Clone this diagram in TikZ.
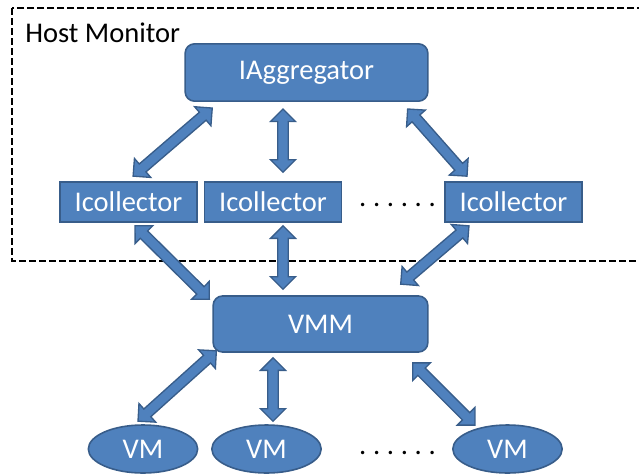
\documentclass[tikz,border=0pt]{standalone}
\usepackage{fontspec}
\setmainfont{Carlito}
\usetikzlibrary{shapes, shapes.arrows, calc, positioning}
\definecolor{officeBlue}{HTML}{4F81BD}
\definecolor{officeBorder}{HTML}{385D8A}
\tikzstyle{component}=[draw=officeBorder, line width=1.2pt, fill=officeBlue, text=white, rounded corners=7pt, minimum width=182pt, minimum height=43pt, inner sep=0pt]
\tikzstyle{collector}=[draw=officeBorder, line width=1.2pt, fill=officeBlue, text=white, minimum width=103pt, minimum height=30pt, inner sep=0pt]
\tikzstyle{guest}=[draw=officeBorder, ellipse, line width=1.2pt, fill=officeBlue, text=white, minimum width=82pt, minimum height=36pt, inner sep=0pt]
\tikzstyle{linkArrow}=[double arrow, draw=officeBorder, fill=officeBlue, line width=1pt, inner sep=3.4pt, double arrow head extend=5.5pt, outer sep=0pt]
\tikzstyle{hostBox}=[draw, line width=1pt, dash pattern=on 5pt off 2.5pt]
\tikzstyle{ellipsis}=[anchor=base, inner sep=0pt]

\newcommand{\link}[2]{%
  \path let \p1=(#1), \p2=(#2),
    \n1={atan2(\y2-\y1,\x2-\x1)}, \n2={veclen(\x2-\x1,\y2-\y1)} in
    node[linkArrow, minimum height=\n2, rotate=\n1] at ($(\p1)!0.5!(\p2)$) {};}
\newcommand{\sixdots}{.\hspace{5pt}.\hspace{5pt}.\hspace{5pt}.\hspace{5pt}.\hspace{5pt}.}

\begin{document}
\begin{tikzpicture}[x=0.75pt, y=-0.75pt, font=\fontsize{21.4}{25}\selectfont]
    \useasboundingbox (0,0) rectangle (639,475);
    \draw[hostBox] (12,8) rectangle (680,261);
    \node (host)[anchor=base west, inner sep=0pt] at (25,42) {Host Monitor};

    \node (agg)[component] at (306.5,72.5) {IAggregator};

    \node (col1)[collector] at (128.5,202) {Icollector};
    \node (col2)[collector] at (273,202) {Icollector};
    \node (cdots)[ellipsis] at (397.5,206) {\sixdots};
    \node (col3)[collector] at (513.5,202) {Icollector};

    \node (vmm)[component, minimum width=161pt, minimum height=42pt] at (320.5,324) {VMM};

    \node (vm1)[guest] at (143,449) {VM};
    \node (vm2)[guest] at (266.5,449) {VM};
    \node (vdots)[ellipsis] at (397.5,454) {\sixdots};
    \node (vm3)[guest] at (507.5,449) {VM};

    % aggregator <-> collectors
    \link{$(agg.south west)+(28,6)$}{$(col1.north)+(4.5,-5)$}
    \link{$(agg.south)+(-23.5,7)$}{$(col2.north)+(10,-9)$}
    \link{$(agg.south east)+(-21,7)$}{$(col3.north west)+(23,-5)$}

    % collectors <-> VMM
    \link{$(col1.south)+(6.5,3)$}{$(vmm.north west)+(-3,4)$}
    \link{$(col2.south)+(10,3)$}{$(vmm.north)+(-37.5,-6)$}
    \link{$(col3.south west)+(25,3)$}{$(vmm.north east)+(-28,-11)$}

    % VMM <-> VMs
    \link{$(vmm.south west)+(4,-2)$}{$(vm1.north)+(-5,-3)$}
    \link{$(vmm.south)+(-47.5,5)$}{$(vm2.north)+(6.5,-3)$}
    \link{$(vmm.south east)+(-16,10)$}{$(vm3.north)+(-32.5,1)$}

\end{tikzpicture}
\end{document}
